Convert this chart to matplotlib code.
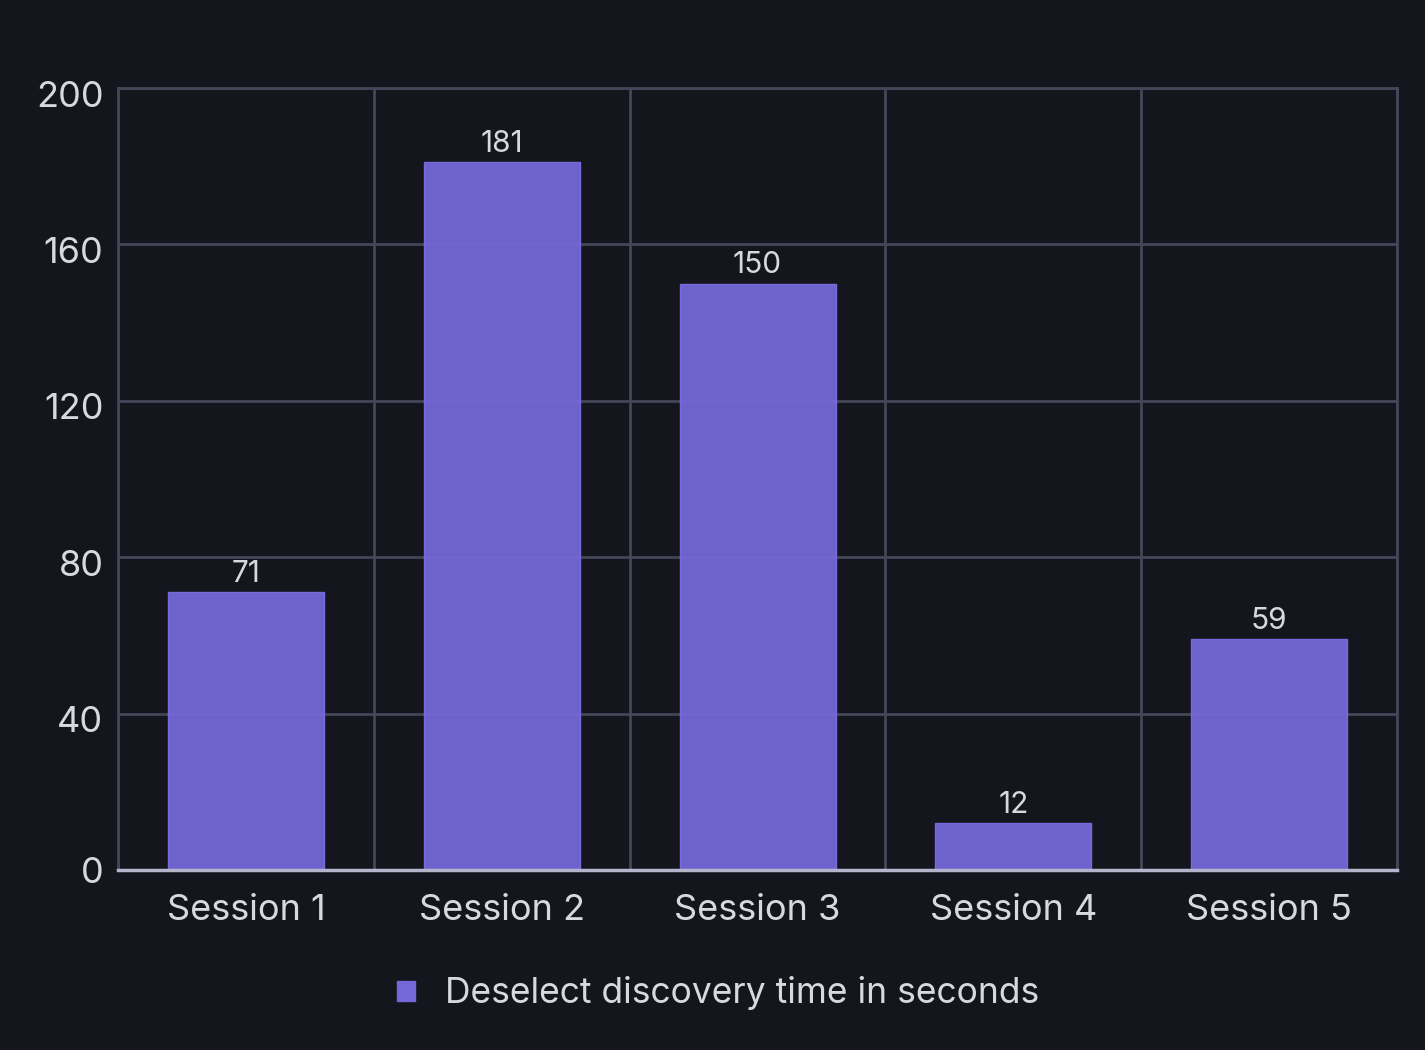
import matplotlib
matplotlib.use("Agg")
import matplotlib.pyplot as plt
import matplotlib.transforms as mtransforms
import numpy as np
from matplotlib.patches import Patch

sessions = ["Session 1", "Session 2", "Session 3", "Session 4", "Session 5"]
discovery_seconds = [71, 181, 150, 12, 59]
series_label = "Deselect discovery time in seconds"
y_ticks = [0, 40, 80, 120, 160, 200]

BG = "#15151e"
BAR = "#7468d8"
GRID = "#46465a"
TEXT = "#d8d8e0"

plt.rcParams["font.family"] = ["Inter", "DejaVu Sans"]

fig = plt.figure(figsize=(14.25, 10.5), dpi=100, facecolor=BG)
ax = fig.add_axes([0.0828, 0.1714, 0.8976, 0.7448], facecolor=BG)

x = np.arange(len(sessions))
ax.bar(x, discovery_seconds, width=0.61, color=BAR, alpha=0.95,
       edgecolor="#7a6ee0", linewidth=1, zorder=3)
for xi, v in zip(x, discovery_seconds):
    ax.annotate(str(v), (xi, v), textcoords="offset points", xytext=(0, 3),
                ha="center", va="bottom", color=TEXT, fontsize=21.5, zorder=4)

ax.set_xlim(-0.5, len(sessions) - 0.5)
ax.set_ylim(0, 200)
ax.set_yticks(y_ticks)
ax.set_xticks(x)
ax.set_xticklabels(sessions)
ax.set_xticks(np.arange(len(sessions) + 1) - 0.5, minor=True)
ax.tick_params(axis="y", length=0, pad=10.5, labelsize=26, labelcolor=TEXT)
ax.tick_params(axis="x", which="major", length=0, pad=17, labelsize=26, labelcolor=TEXT)
ax.tick_params(axis="x", which="minor", length=0)
ax.grid(axis="y", which="major", color=GRID, linewidth=2, zorder=1)
ax.grid(axis="x", which="minor", color=GRID, linewidth=2, zorder=1)
ax.grid(axis="x", which="major", visible=False)

# y labels sit a little below their grid lines in the reference
shift = mtransforms.ScaledTranslation(0, -4 / 72, fig.dpi_scale_trans)
for lbl in ax.get_yticklabels()[1:]:
    lbl.set_transform(lbl.get_transform() + shift)

for side in ["top", "right", "left"]:
    ax.spines[side].set_color(GRID)
    ax.spines[side].set_linewidth(2)
ax.spines["bottom"].set_color("#b4b4cc")
ax.spines["bottom"].set_linewidth(2.5)
ax.spines["bottom"].set_zorder(5)

handle = Patch(facecolor=BAR, edgecolor=BAR)
fig.legend([handle], [series_label], loc="center", bbox_to_anchor=(0.504, 0.054),
           frameon=False, fontsize=25.5, labelcolor=TEXT, handlelength=0.5,
           handleheight=0.5, handletextpad=0.85)

fig.savefig("out.png", dpi=100, facecolor=BG)
